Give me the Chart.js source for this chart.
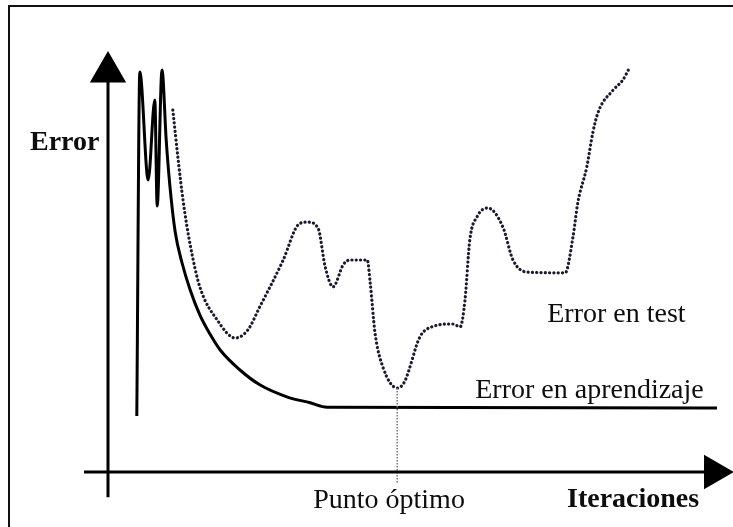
<!DOCTYPE html>
<html>
<head>
<meta charset="utf-8">
<script src="https://cdn.jsdelivr.net/npm/chart.js@4.4.0/dist/chart.umd.min.js"></script>
<style>
  html, body { margin: 0; padding: 0; background: #fff; }
  #wrap { position: relative; width: 733px; height: 527px; overflow: hidden; }
  #chart { position: absolute; left: 0; top: 0; }
  #frame { position: absolute; left: 8px; top: 5px; width: 800px; height: 600px;
           border-left: 2px solid #111; border-top: 2px solid #111; pointer-events: none; }
</style>
</head>
<body>
<div id="wrap">
  <canvas id="chart" width="733" height="527"></canvas>
  <div id="frame"></div>
</div>
<script>
// x = iterations, y = error (0..100)
const trainX = [4.8, 5.3, 6.7, 7.8, 8.2, 9.0, 9.7, 10.3, 11.2, 12.3, 13.7, 15.3, 17.0, 18.7, 22.0, 25.3, 29.8, 33.7, 36.5, 101.5];
const trainY = [14, 100, 73, 93, 66.5, 100.5, 83, 71.8, 60, 52.5, 45.5, 39.3, 34.5, 30.5, 25.5, 21.8, 18.8, 17.3, 16.2, 16];

const testX = [10.8, 11.7, 12.5, 13.7, 15.3, 18.2, 21.2, 23.3, 25.3, 29.2, 31.7, 33.2, 35.0, 36.2, 37.5,
               39.2, 40.3, 43.2, 43.7, 44.5, 45.8, 48.2, 49.4, 52.0, 54.0, 57.5, 58.7, 59.5, 60.3, 61.5,
               63.3, 65.8, 67.5, 69.8, 76.2, 77.5, 78.3, 79.8, 80.8, 81.7, 84.2, 85.8, 87.0];
const testY = [90.5, 78, 68, 56.8, 46.3, 38, 33.5, 35.5, 41.3, 53, 61.8, 62.5, 61, 51.3, 46.3,
               51.8, 53, 53, 47.3, 34.8, 26.3, 21, 22.5, 33.8, 36.3, 37, 36.3, 43, 58, 63.8,
               66, 61.3, 53, 50, 49.8, 58.8, 67.3, 76.3, 84.8, 90, 95.5, 98, 101.3];

const optimoX = 48.2;
const optimoY = 21;

const labels = [
  { text: 'Error', x: -13, y: 80.5, bold: true },
  { text: 'Error en test', x: 73.2, y: 37.5, bold: false },
  { text: 'Error en aprendizaje', x: 61.2, y: 18.5, bold: false },
  { text: 'Punto óptimo', x: 34.2, y: -9, bold: false },
  { text: 'Iteraciones', x: 76.5, y: -8.8, bold: true }
];

const toPoints = (xs, ys) => xs.map((x, i) => ({ x: x, y: ys[i] }));

const labelPlugin = {
  id: 'sketchLabels',
  afterDatasetsDraw(chart) {
    const { ctx, scales: { x, y } } = chart;
    ctx.save();
    ctx.fillStyle = '#0d0d0d';
    ctx.textBaseline = 'alphabetic';
    labels.forEach(l => {
      ctx.font = (l.bold ? 'bold ' : '') + '28px "Liberation Serif", "Times New Roman", serif';
      ctx.fillText(l.text, x.getPixelForValue(l.x), y.getPixelForValue(l.y));
    });
    ctx.restore();
  }
};

const ctx = document.getElementById('chart').getContext('2d');

new Chart(ctx, {
  type: 'scatter',
  data: {
    datasets: [
      {
        // y axis with arrow
        data: [{ x: 0, y: -6.3 }, { x: 0, y: 100 }],
        showLine: true,
        borderColor: '#000',
        borderWidth: 3,
        pointRadius: [0, 18],
        pointStyle: 'triangle',
        pointBackgroundColor: '#000',
        pointBorderColor: '#000',
        clip: false
      },
      {
        // x axis with arrow
        data: [{ x: -4, y: 0 }, { x: 101, y: 0 }],
        showLine: true,
        borderColor: '#000',
        borderWidth: 3,
        pointRadius: [0, 17],
        pointStyle: 'triangle',
        pointRotation: 90,
        pointBackgroundColor: '#000',
        pointBorderColor: '#000',
        clip: false
      },
      {
        // optimum marker
        data: [{ x: optimoX, y: optimoY }, { x: optimoX, y: -2.8 }],
        showLine: true,
        borderColor: '#777',
        borderWidth: 1.5,
        borderDash: [1.5, 1.5],
        pointRadius: 0,
        clip: false
      },
      {
        label: 'Error en aprendizaje',
        data: toPoints(trainX, trainY),
        showLine: true,
        borderColor: '#000',
        borderWidth: 3,
        cubicInterpolationMode: 'monotone',
        pointRadius: 0,
        clip: false
      },
      {
        label: 'Error en test',
        data: toPoints(testX, testY),
        showLine: true,
        borderColor: '#1a1a2e',
        borderWidth: 3.2,
        borderDash: [0.1, 4.2],
        borderCapStyle: 'round',
        cubicInterpolationMode: 'monotone',
        pointRadius: 0,
        clip: false
      }
    ]
  },
  options: {
    responsive: false,
    animation: false,
    layout: { padding: { left: 108, right: 25, top: 72, bottom: 55 } },
    scales: {
      x: { type: 'linear', min: 0, max: 100, display: false },
      y: { type: 'linear', min: 0, max: 100, display: false }
    },
    plugins: {
      legend: { display: false },
      tooltip: { enabled: false }
    }
  },
  plugins: [labelPlugin]
});
</script>
</body>
</html>
